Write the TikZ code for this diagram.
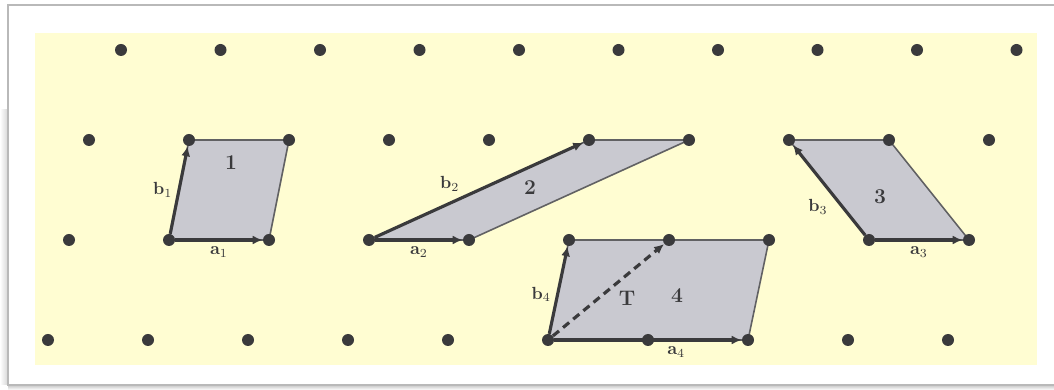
\documentclass[tikz,border=0pt]{standalone}
\usepackage{amsmath}
\usepackage{xcolor}
\usepackage{tikz}
\usetikzlibrary{arrows.meta, backgrounds}
\definecolor{paper}{RGB}{255, 253, 210}
\definecolor{cellfill}{RGB}{201, 201, 208}
\definecolor{darkgray}{RGB}{58, 58, 60}
\definecolor{framegray}{RGB}{185, 185, 185}

\begin{document}
\begin{tikzpicture}[
  every node/.style = {font=\normalsize},
  dot/.style = {circle, fill=darkgray, minimum size=0.24cm, inner sep=0pt},
  cell/.style = {fill=cellfill, draw=darkgray!80, line width=0.9pt, line join=round},
  vec/.style = {-{Latex[length=2mm, width=1.8mm]}, line width=1.8pt, draw=darkgray},
  diag/.style = {vec, dash pattern=on 4.5pt off 3pt},
  lbl/.style = {text=darkgray, inner sep=2pt},
  num/.style = {font=\large\bfseries, text=darkgray}
]
\useasboundingbox (0,0) rectangle (21.08,7.8);

% ---- LATTICE: four rows, ten points each ----
\foreach \r/\y/\ox/\dx in {1/6.8/2.42/1.99, 2/5.0/1.78/2.0, 3/3.0/1.38/2.0, 4/1.0/0.96/2.0}
  \foreach \k in {0,...,9}
    \node[dot] (d-\r-\k) at ({\ox+\k*\dx}, \y) {};

\begin{scope}[on background layer]
  % ---- FRAME + PAPER ----
  \shade[left color=white, right color=framegray!60] (0,0.1) rectangle (0.16,5.6);
  \shade[top color=framegray!80, bottom color=white] (0.16,0) rectangle (21.08,0.1);
  \draw[framegray, line width=1pt, fill=white] (0.16,0.1) rectangle (21.4,7.7);
  \fill[paper] (0.7,0.5) rectangle (20.74,7.14);

  % ---- CELLS ----
  \filldraw[cell] (d-3-1.center) -- (d-3-2.center) -- (d-2-2.center) -- (d-2-1.center) -- cycle;
  \filldraw[cell] (d-3-3.center) -- (d-3-4.center) -- (d-2-6.center) -- (d-2-5.center) -- cycle;
  \filldraw[cell] (d-3-8.center) -- (d-3-9.center) -- (d-2-8.center) -- (d-2-7.center) -- cycle;
  \filldraw[cell] (d-4-5.center) -- (d-4-7.center) -- (d-3-7.center) -- (d-3-5.center) -- cycle;

  % ---- CELL 1 vectors ----
  \draw[vec] (d-3-1) -- node[lbl, below=1pt] {$\mathbf{a}_1$} (d-3-2);
  \draw[vec] (d-3-1) -- node[lbl, left=1pt] {$\mathbf{b}_1$} (d-2-1);

  % ---- CELL 2 vectors ----
  \draw[vec] (d-3-3) -- node[lbl, below=1pt] {$\mathbf{a}_2$} (d-3-4);
  \draw[vec] (d-3-3) -- node[lbl, above left, pos=0.43] {$\mathbf{b}_2$} (d-2-5);

  % ---- CELL 3 vectors ----
  \draw[vec] (d-3-8) -- node[lbl, below=1pt] {$\mathbf{a}_3$} (d-3-9);
  \draw[vec] (d-3-8) -- node[lbl, below left, pos=0.45] {$\mathbf{b}_3$} (d-2-7);

  % ---- CELL 4 vectors + dashed diagonal ----
  \draw[vec] (d-4-5) -- node[lbl, below=1pt, pos=0.65] {$\mathbf{a}_4$} (d-4-7);
  \draw[vec] (d-4-5) -- node[lbl, left=1pt, pos=0.45] {$\mathbf{b}_4$} (d-3-5);
  \draw[diag] (d-4-5) -- (d-3-6);
\end{scope}

% ---- CELL NUMBERS ----
\node[num] (n1) at (4.62, 4.54) {1};
\node[num] (n2) at (10.6, 4.04) {2};
\node[num] (n3) at (17.6, 3.86) {3};
\node[num] (n4) at (13.54, 1.88) {4};
\node[num] (tt) at (12.54, 1.84) {T};

\end{tikzpicture}
\end{document}
